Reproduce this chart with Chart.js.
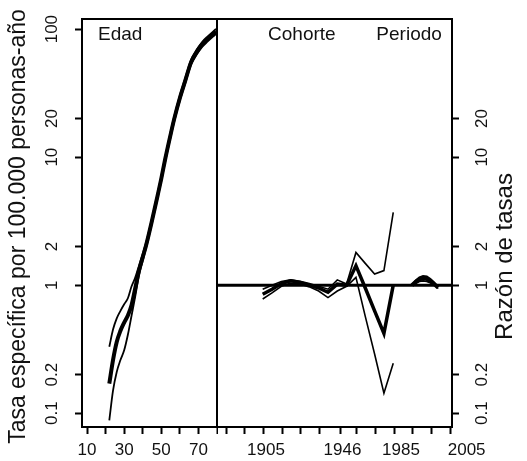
<!DOCTYPE html>
<html>
<head>
<meta charset="utf-8">
<script src="https://cdn.jsdelivr.net/npm/chart.js@4.4.0/dist/chart.umd.min.js"></script>
<style>
  body { margin: 0; background: #fff; }
  #wrap { position: relative; width: 527px; height: 461px; }
  #ageCanvas { position: absolute; left: 0; top: 0; }
  #apcCanvas { position: absolute; left: 217px; top: 0; }
</style>
</head>
<body>
<div id="wrap">
  <canvas id="ageCanvas" width="218" height="461"></canvas>
  <canvas id="apcCanvas" width="310" height="461"></canvas>
</div>
<script>
// Age effect (rate per 100,000 person-years), estimate and bands
const ages = [22, 24, 26, 28, 30, 32, 34, 36, 38, 40, 42, 45, 48, 50, 52, 55, 57, 60, 63, 66, 69, 72, 75, 78, 79.5];
const ageRate   = [0.17, 0.26, 0.36, 0.44, 0.51, 0.58, 0.70, 0.95, 1.3, 1.65, 2.1, 3.2, 5.0, 6.8, 9.5, 15, 20, 29, 40, 55, 66, 76, 84, 92, 96];
const ageRateHi = [0.33, 0.45, 0.55, 0.63, 0.71, 0.79, 0.98, 1.15, 1.42, 1.76, 2.2, 3.34, 5.2, 7.1, 9.9, 15.7, 20.9, 30.3, 41.8, 57.5, 69, 79.4, 87.8, 96.1, 100.3];
const ageRateLo = [0.088, 0.15, 0.21, 0.26, 0.31, 0.41, 0.58, 0.82, 1.2, 1.55, 2.0, 3.06, 4.78, 6.5, 9.07, 14.3, 19.1, 27.7, 38.2, 52.5, 63, 72.6, 80.2, 87.9, 91.7];

// Cohort rate ratios
const cohortYears = [1904.5, 1909.5, 1914.5, 1919.5, 1924.5, 1929.5, 1934.5, 1939.5, 1944.5, 1949.5, 1954.5, 1959.5, 1964.5, 1969.5, 1974.5];
const cohortRR   = [0.85, 0.93, 1.03, 1.08, 1.05, 1.00, 0.95, 0.88, 1.02, 1.00, 1.42, 0.95, 0.63, 0.42, 1.00];
const cohortRRHi = [0.93, 1.00, 1.07, 1.10, 1.07, 1.03, 0.98, 0.93, 1.10, 1.02, 1.80, 1.48, 1.22, 1.30, 3.70];
const cohortRRLo = [0.78, 0.87, 0.98, 1.04, 1.02, 0.97, 0.90, 0.80, 0.90, 0.98, 1.15, 0.57, 0.29, 0.143, 0.246];

// Period rate ratios
const periodYears = [1984.5, 1986.5, 1988.5, 1990.5, 1992.5, 1994.5, 1996.5, 1998.5];
const periodRR   = [1.00, 1.06, 1.11, 1.13, 1.12, 1.08, 1.02, 0.96];
const periodRRHi = [1.00, 1.09, 1.15, 1.18, 1.17, 1.12, 1.05, 0.94];
const periodRRLo = [1.00, 1.03, 1.07, 1.08, 1.07, 1.04, 1.00, 0.99];

// reference ratio line
const refYears = [1880, 2006];
const refRR = [1, 1];

// axes
const rateTicks = [0.1, 0.2, 1, 2, 10, 20, 100];
const ratioTicks = [0.1, 0.2, 1, 2, 10, 20];
const ageTicks = [10, 20, 30, 40, 50, 60, 70, 80];
const ageTickLabels = ['10', '', '30', '', '50', '', '70', ''];
const yearTicks = [1885, 1895, 1905, 1915, 1925, 1935, 1946, 1955, 1965, 1975, 1985, 1995, 2005];
// spaces nudge the labels the way they sit in the original
const yearTickLabels = ['', '', ' 1905', '', '', '', ' 1946', '', '', '', '1985     ', '', '       2005'];

const FONT = 'Liberation Sans, Arial, sans-serif';
const INK = '#111';

function line(xs, ys, width) {
  return {
    data: xs.map((x, i) => ({ x: x, y: ys[i] })),
    borderColor: '#000',
    borderWidth: width,
    pointRadius: 0,
    fill: false
  };
}

function tickGrid() {
  return { drawOnChartArea: false, tickLength: 7, tickWidth: 2, tickColor: '#000' };
}

function fixX(s) { s.height = 34; s.paddingLeft = 0; s.paddingRight = 0; }

// box around the panel, panel labels and axis title
const frame = {
  id: 'frame',
  afterDraw(chart, args, opts) {
    const { ctx, chartArea: a, scales } = chart;
    ctx.save();
    ctx.strokeStyle = '#000';
    ctx.lineWidth = 2;
    ctx.strokeRect(a.left, a.top, a.right - a.left, a.bottom - a.top);
    ctx.fillStyle = INK;
    ctx.textBaseline = 'middle';
    ctx.font = '19px ' + FONT;
    (opts.labels || []).forEach(l => {
      ctx.textAlign = l.align;
      ctx.fillText(l.text, scales.x.getPixelForValue(l.x), scales[l.axis].getPixelForValue(l.y));
    });
    if (opts.title) {
      const t = opts.title;
      ctx.font = t.size + 'px ' + FONT;
      ctx.textAlign = 'center';
      ctx.translate(t.x, t.y);
      ctx.rotate(-Math.PI / 2);
      ctx.fillText(t.text, 0, 0);
    }
    ctx.restore();
  }
};

new Chart(document.getElementById('ageCanvas'), {
  type: 'line',
  data: {
    datasets: [
      Object.assign(line(ages, ageRateLo, 1.8), { cubicInterpolationMode: 'monotone' }),
      Object.assign(line(ages, ageRateHi, 1.8), { cubicInterpolationMode: 'monotone' }),
      Object.assign(line(ages, ageRate, 4), { cubicInterpolationMode: 'monotone' })
    ]
  },
  options: {
    responsive: false,
    animation: false,
    events: [],
    layout: { padding: { top: 19, right: 1, left: 0, bottom: 0 }, autoPadding: false },
    plugins: {
      legend: { display: false },
      tooltip: { enabled: false },
      frame: {
        labels: [{ text: 'Edad', x: 15.9, y: 90, axis: 'y', align: 'left' }],
        title: { text: 'Tasa específica por 100.000 personas-año', x: 19, y: 226.5, size: 23 }
      }
    },
    scales: {
      x: {
        type: 'linear', min: 7.3, max: 80,
        afterBuildTicks: s => { s.ticks = ageTicks.map(v => ({ value: v })); },
        afterFit: fixX,
        grid: tickGrid(),
        border: { display: false },
        ticks: { autoSkip: false, maxRotation: 0, minRotation: 0, padding: 6, color: INK,
          font: { family: FONT, size: 17 }, callback: (v, i) => ageTickLabels[i] }
      },
      y: {
        type: 'logarithmic', position: 'left', min: 0.078, max: 120,
        afterBuildTicks: s => { s.ticks = rateTicks.map(v => ({ value: v })); },
        afterFit: s => { s.width = 82; s.paddingTop = 0; s.paddingBottom = 0; },
        grid: tickGrid(),
        border: { display: false },
        ticks: { autoSkip: false, minRotation: 90, maxRotation: 90, crossAlign: 'center', padding: 9,
          color: INK, font: { family: FONT, size: 17 }, callback: v => String(v) }
      }
    }
  },
  plugins: [frame]
});

new Chart(document.getElementById('apcCanvas'), {
  type: 'line',
  data: {
    datasets: [
      line(refYears, refRR, 3),
      line(cohortYears, cohortRRLo, 1.6),
      line(cohortYears, cohortRRHi, 1.6),
      line(cohortYears, cohortRR, 3.5),
      line(periodYears, periodRRLo, 1.8),
      line(periodYears, periodRRHi, 1.8),
      line(periodYears, periodRR, 4)
    ]
  },
  options: {
    responsive: false,
    animation: false,
    events: [],
    layout: { padding: { top: 19, right: 0, left: 0, bottom: 0 }, autoPadding: false },
    plugins: {
      legend: { display: false },
      tooltip: { enabled: false },
      frame: {
        labels: [
          { text: 'Cohorte', x: 1925.5, y: 90, axis: 'y', align: 'center' },
          { text: 'Periodo', x: 1983, y: 90, axis: 'y', align: 'center' }
        ],
        title: { text: 'Razón de tasas', x: 288, y: 256.5, size: 24 }
      }
    },
    scales: {
      x: {
        type: 'linear', min: 1880, max: 2006,
        afterBuildTicks: s => { s.ticks = yearTicks.map(v => ({ value: v })); },
        afterFit: fixX,
        grid: tickGrid(),
        border: { display: false },
        ticks: { autoSkip: false, maxRotation: 0, minRotation: 0, padding: 6, color: INK,
          font: { family: FONT, size: 17 }, callback: (v, i) => yearTickLabels[i] }
      },
      y: {
        type: 'logarithmic', position: 'right', min: 0.078, max: 120,
        afterBuildTicks: s => { s.ticks = ratioTicks.map(v => ({ value: v })); },
        afterFit: s => { s.width = 75; s.paddingTop = 0; s.paddingBottom = 0; },
        grid: tickGrid(),
        border: { display: false },
        ticks: { autoSkip: false, minRotation: 90, maxRotation: 90, crossAlign: 'center', padding: 11,
          color: INK, font: { family: FONT, size: 17 }, callback: v => String(v) }
      }
    }
  },
  plugins: [frame]
});
</script>
</body>
</html>
